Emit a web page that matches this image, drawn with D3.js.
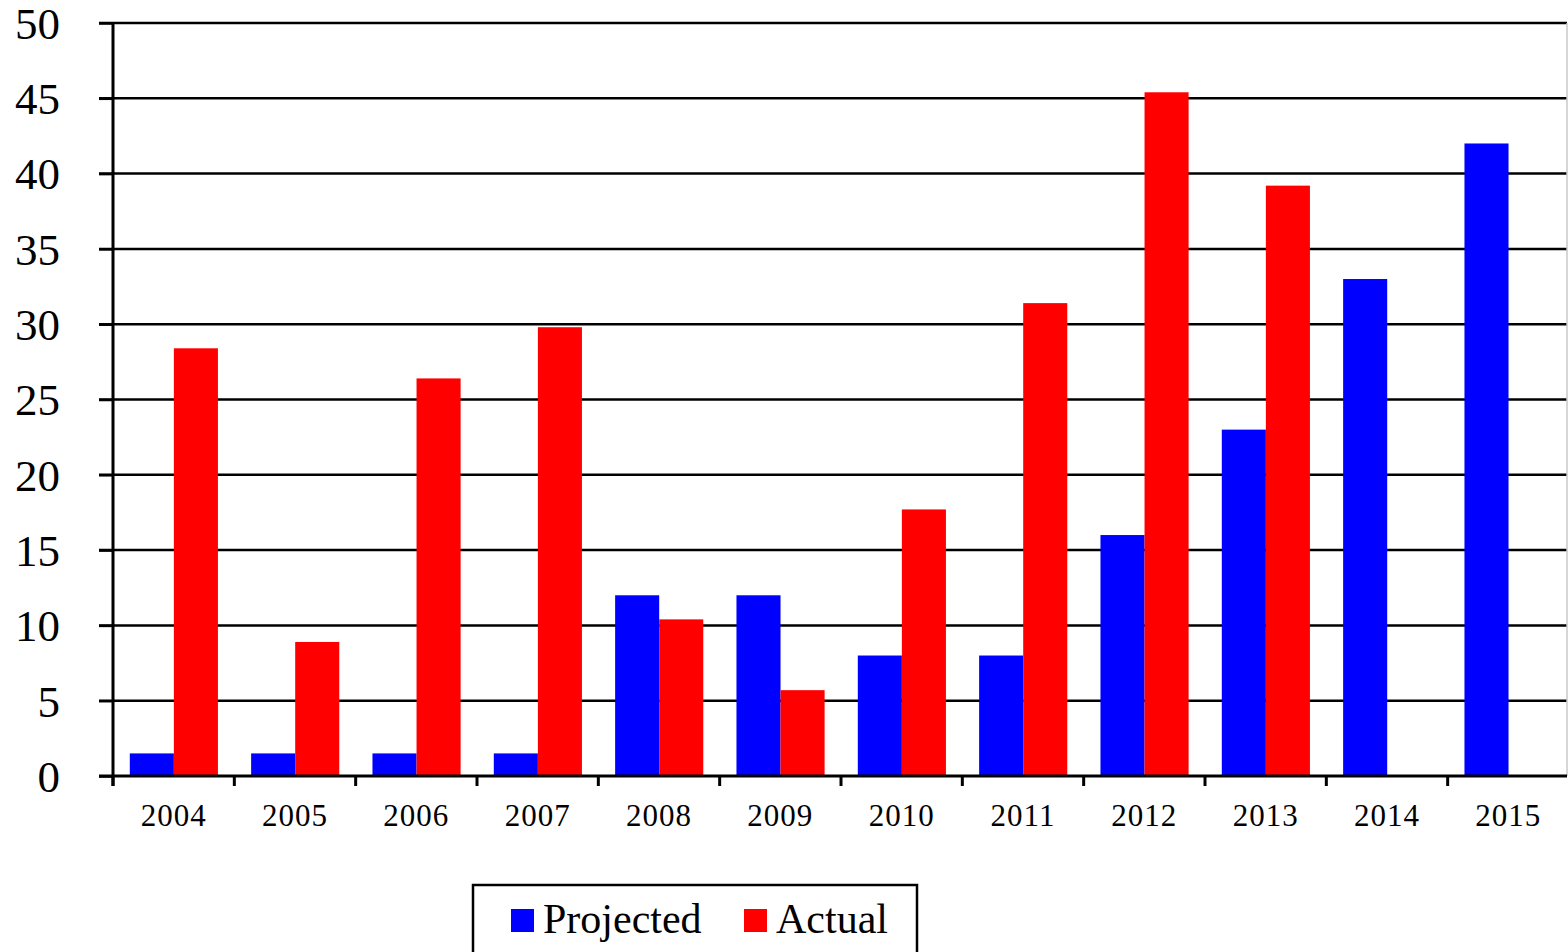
<!DOCTYPE html>
<html><head><meta charset="utf-8">
<script src="https://cdn.jsdelivr.net/npm/d3@7"></script>
<style>html,body{margin:0;padding:0;background:#fff;}svg{display:block;}</style>
</head><body>
<svg id="c" width="1568" height="952"></svg>
<script>
const years = ["2004","2005","2006","2007","2008","2009","2010","2011","2012","2013","2014","2015"];
const projected = [1.5,1.5,1.5,1.5,12,12,8,8,16,23,33,42];
const actual = [28.4,8.9,26.4,29.8,10.4,5.7,17.7,31.4,45.4,39.2,null,null];
const yTicks = [0,5,10,15,20,25,30,35,40,45,50];
const seriesNames = ["Projected","Actual"];
const colors = ["#0000ff","#ff0000"];

(function(){
const svg = d3.select("#c");
const pL = 113, pR = 1567, pT = 23, pB = 776, bandR = 1569;
const x = d3.scaleBand().domain(years).range([pL, bandR]).paddingInner(0).paddingOuter(0);
const x1 = d3.scaleBand().domain(seriesNames).range([16.8, x.bandwidth() - 16.4]).padding(0);
const y = d3.scaleLinear().domain([0, 50]).range([pB, pT]);

// gridlines
svg.append("g").selectAll("line").data(yTicks.filter(d => d > 0)).join("line")
  .attr("x1", 99).attr("x2", pR).attr("y1", d => y(d)).attr("y2", d => y(d))
  .attr("stroke", "#000").attr("stroke-width", 2.5);
// right edge line
svg.append("line").attr("x1", pR).attr("x2", pR).attr("y1", pT).attr("y2", pB)
  .attr("stroke", "#c8c8c8").attr("stroke-width", 1.5);

// bars
const data = years.map((yr, i) => ({yr, vals: [projected[i], actual[i]]}));
const g = svg.append("g").selectAll("g").data(data).join("g")
  .attr("transform", d => `translate(${x(d.yr)},0)`);
g.selectAll("rect").data(d => d.vals.map((v, j) => ({v, s: seriesNames[j], c: colors[j]})).filter(e => e.v != null))
  .join("rect")
  .attr("x", e => x1(e.s)).attr("width", x1.bandwidth())
  .attr("y", e => y(e.v)).attr("height", e => y(0) - y(e.v))
  .attr("fill", e => e.c);

// y axis
const yAxis = d3.axisLeft(y).tickValues(yTicks).tickSize(14).tickPadding(0).tickFormat(d3.format("d"));
const ya = svg.append("g").attr("transform", `translate(${pL},0)`).call(yAxis);
ya.select(".domain").remove();
ya.selectAll(".tick line").attr("stroke", "#000").attr("stroke-width", 2.5);
ya.selectAll(".tick text").attr("x", -53).attr("dy", "0.34em")
  .attr("font-family", "'Liberation Serif','Times New Roman',serif").attr("font-size", 45).attr("fill", "#000");
svg.append("line").attr("x1", pL).attr("x2", pL).attr("y1", pT).attr("y2", pB + 10)
  .attr("stroke", "#000").attr("stroke-width", 3);

// x axis
const xTickScale = d3.scaleLinear().domain([0, years.length]).range([pL, bandR]);
const xa = svg.append("g").attr("transform", `translate(0,${pB})`);
xa.append("line").attr("x1", 99).attr("x2", pR).attr("y1", 0).attr("y2", 0)
  .attr("stroke", "#000").attr("stroke-width", 3);
xa.selectAll("line.t").data(d3.range(years.length)).join("line").attr("class", "t")
  .attr("x1", i => xTickScale(i)).attr("x2", i => xTickScale(i)).attr("y1", 0).attr("y2", 10)
  .attr("stroke", "#000").attr("stroke-width", 3);
const xAxis = d3.axisBottom(x).tickSize(0).tickPadding(0);
const xl = svg.append("g").attr("transform", `translate(0,${pB})`).call(xAxis);
xl.select(".domain").remove();
xl.selectAll(".tick text").attr("y", 50).attr("dy", 0).attr("letter-spacing", 1)
  .attr("font-family", "'Liberation Serif','Times New Roman',serif").attr("font-size", 31).attr("fill", "#000");

// legend
const lg = svg.append("g");
lg.append("rect").attr("x", 473).attr("y", 885).attr("width", 444).attr("height", 80)
  .attr("fill", "#fff").attr("stroke", "#000").attr("stroke-width", 2.5);
const legX = [511, 744];
seriesNames.forEach((s, i) => {
  lg.append("rect").attr("x", legX[i]).attr("y", 909).attr("width", 23).attr("height", 23).attr("fill", colors[i]);
  lg.append("text").attr("x", legX[i] + 32).attr("y", 933).text(s)
    .attr("font-family", "'Liberation Serif','Times New Roman',serif").attr("font-size", 42).attr("fill", "#000");
});
})();
</script>
</body></html>
